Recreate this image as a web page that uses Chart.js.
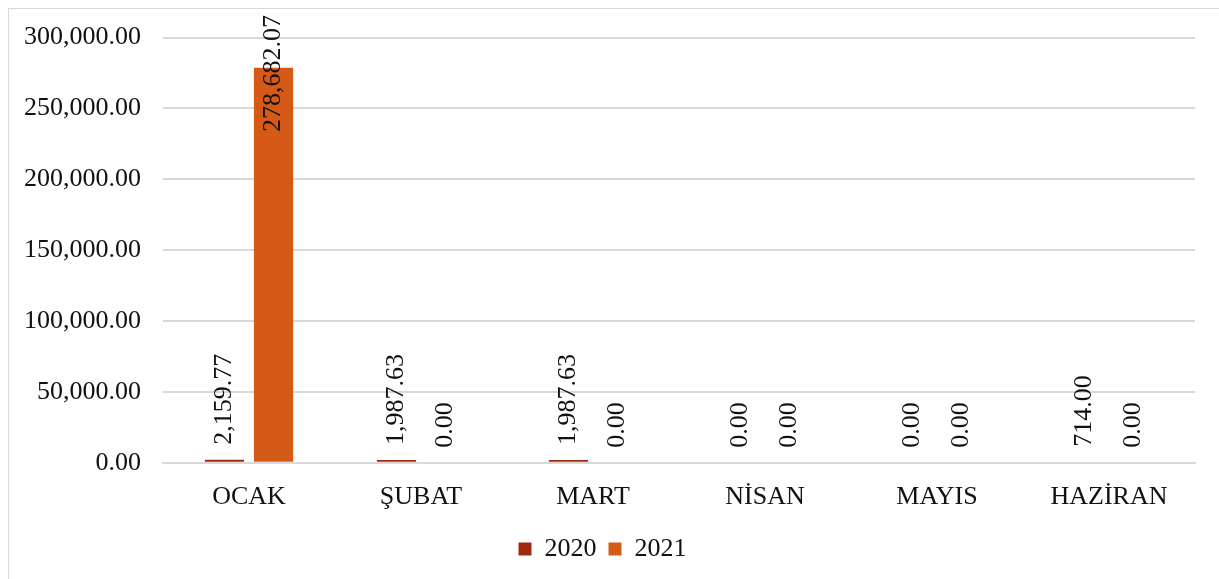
<!DOCTYPE html>
<html>
<head>
<meta charset="utf-8">
<script src="https://cdn.jsdelivr.net/npm/chart.js@4.4.1/dist/chart.umd.min.js"></script>
<style>
  html, body { margin: 0; padding: 0; background: #fff; }
  .frame {
    position: absolute; left: 8px; top: 8px; width: 1300px; height: 700px;
    border-left: 1px solid #d9d9d9; border-top: 1px solid #d9d9d9;
  }
  .wrap { position: absolute; left: 0; top: 0; width: 1219px; height: 579px; }
</style>
</head>
<body>
<div class="frame"></div>
<div class="wrap"><canvas id="myChart"></canvas></div>
<script>
const months = ["OCAK", "ŞUBAT", "MART", "NİSAN", "MAYIS", "HAZİRAN"];
const values2020 = [2159.77, 1987.63, 1987.63, 0, 0, 714];
const values2021 = [278682.07, 0, 0, 0, 0, 0];
const seriesNames = ["2020", "2021"];
const yTicks = [0, 50000, 100000, 150000, 200000, 250000, 300000];

const FONT = "'Liberation Serif', 'Times New Roman', serif";
const SIZE = 26;
const fmt = (v) =>
  v.toLocaleString("en-US", { minimumFractionDigits: 2, maximumFractionDigits: 2 });

// rotated value labels above each bar, clamped to the top of the canvas
const barLabels = {
  id: "barLabels",
  afterDatasetsDraw(chart) {
    const ctx = chart.ctx;
    ctx.save();
    ctx.font = SIZE + "px " + FONT;
    ctx.fillStyle = "#111";
    ctx.textBaseline = "middle";
    ctx.textAlign = "left";
    chart.data.datasets.forEach((ds, di) => {
      const meta = chart.getDatasetMeta(di);
      meta.data.forEach((bar, i) => {
        const text = fmt(ds.data[i]);
        const w = ctx.measureText(text).width;
        let bottom = bar.y - 15;
        if (bottom - w < 15) bottom = 15 + w;
        ctx.save();
        ctx.translate(bar.x, bottom);
        ctx.rotate(-Math.PI / 2);
        ctx.fillText(text, 0, 0);
        ctx.restore();
      });
    });
    ctx.restore();
  },
};

new Chart(document.getElementById("myChart"), {
  type: "bar",
  data: {
    labels: months,
    datasets: [
      {
        label: seriesNames[0],
        data: values2020,
        backgroundColor: "#9E2B0F",
        categoryPercentage: 0.57,
        barPercentage: 0.8,
      },
      {
        label: seriesNames[1],
        data: values2021,
        backgroundColor: "#D65A17",
        categoryPercentage: 0.57,
        barPercentage: 0.8,
      },
    ],
  },
  options: {
    responsive: true,
    maintainAspectRatio: false,
    animation: false,
    layout: { padding: { left: 10, right: 24, top: 24, bottom: 7 } },
    plugins: {
      legend: {
        position: "bottom",
        labels: {
          font: { family: FONT, size: SIZE },
          color: "#111",
          boxWidth: 13,
          boxHeight: 13,
          padding: 12,
        },
      },
      tooltip: { enabled: false },
    },
    scales: {
      x: {
        grid: { display: false },
        border: { color: "#d9d9d9", width: 2 },
        ticks: { font: { family: FONT, size: SIZE }, color: "#111", padding: 11 },
      },
      y: {
        min: 0,
        max: 300000,
        afterBuildTicks: (scale) => {
          scale.ticks = yTicks.map((v) => ({ value: v }));
        },
        afterFit: (scale) => {
          scale.width = 153;
        },
        grid: { color: "#d9d9d9", lineWidth: 2, drawTicks: false },
        border: { display: false },
        ticks: {
          font: { family: FONT, size: SIZE },
          color: "#111",
          padding: 22,
          callback: (v) => fmt(v),
        },
      },
    },
  },
  plugins: [barLabels],
});
</script>
</body>
</html>
